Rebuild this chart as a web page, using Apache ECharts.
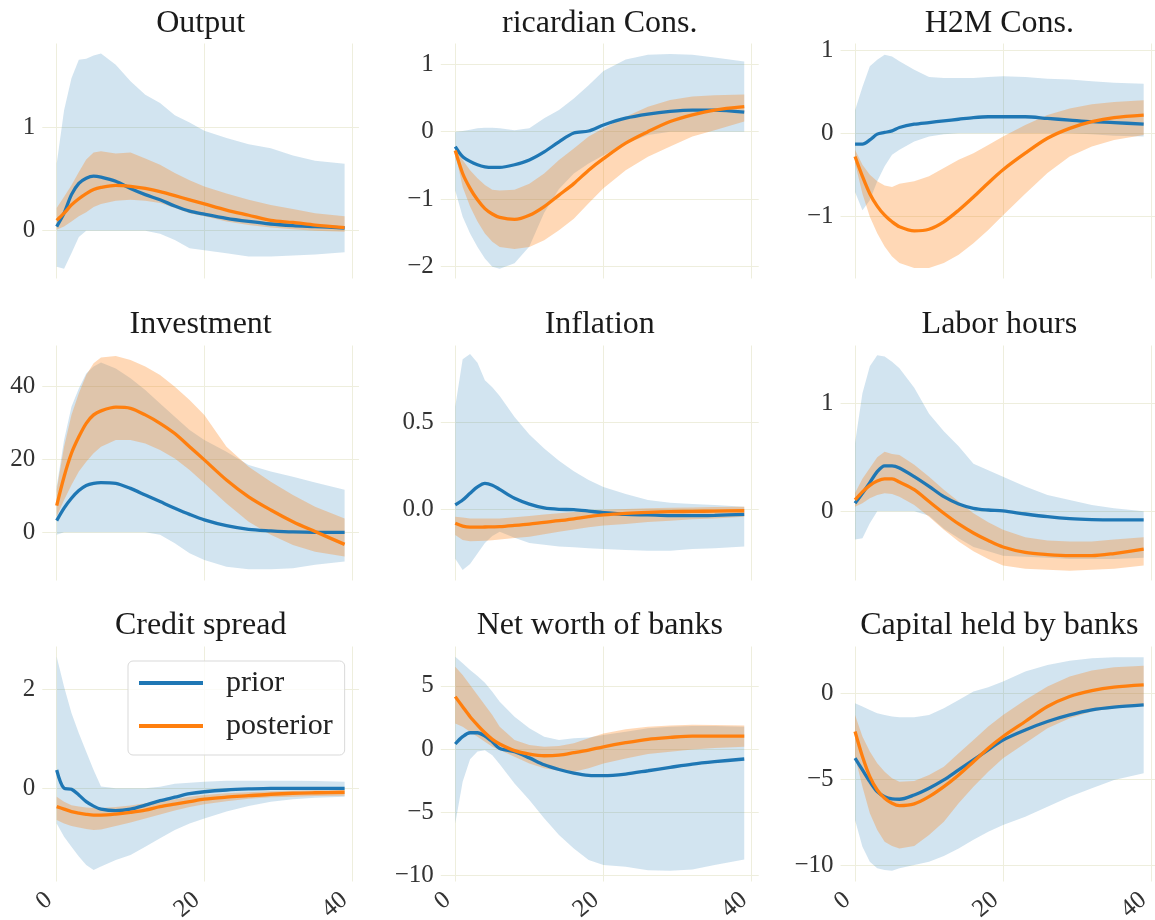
<!DOCTYPE html>
<html lang="en">
<head>
    <meta charset="UTF-8">
    <title>IRF prior vs posterior</title>
    <style>
        body { margin: 0; background: #fff; }
        #main { width: 1155px; height: 920px; }
    </style>
</head>
<script src="https://cdn.jsdelivr.net/npm/echarts@6.0.0/dist/echarts.min.js"></script>
<body>
<div id="main"></div>
</body>
<script>
    // horizon (quarters) at which the responses are read
    var periods = [0, 1, 2, 3, 4, 5, 6, 8, 10, 12, 14, 16, 18, 20, 23, 26, 29, 32, 35, 39];

    // Output
    var outputPrior   = [0.04, 0.17, 0.35, 0.46, 0.51, 0.53, 0.52, 0.48, 0.41, 0.35, 0.30, 0.24, 0.19, 0.16, 0.12, 0.09, 0.065, 0.05, 0.04, 0.026];
    var outputPriorLo = [-0.35, -0.37, -0.22, -0.06, 0, 0, 0, 0, 0, 0, -0.03, -0.09, -0.17, -0.19, -0.22, -0.25, -0.25, -0.24, -0.23, -0.21];
    var outputPriorHi = [0.65, 1.17, 1.48, 1.66, 1.67, 1.70, 1.72, 1.61, 1.45, 1.32, 1.24, 1.12, 1.05, 0.97, 0.90, 0.84, 0.80, 0.73, 0.68, 0.65];
    var outputPost    = [0.10, 0.17, 0.25, 0.31, 0.36, 0.40, 0.42, 0.44, 0.43, 0.41, 0.38, 0.34, 0.30, 0.26, 0.20, 0.15, 0.10, 0.08, 0.055, 0.03];
    var outputPostLo  = [0.01, 0.04, 0.09, 0.14, 0.18, 0.23, 0.26, 0.29, 0.30, 0.29, 0.27, 0.22, 0.17, 0.14, 0.09, 0.055, 0.03, 0.013, 0, -0.01];
    var outputPostHi  = [0.22, 0.33, 0.44, 0.57, 0.69, 0.76, 0.77, 0.75, 0.76, 0.70, 0.64, 0.56, 0.49, 0.43, 0.36, 0.30, 0.25, 0.21, 0.17, 0.14];

    // ricardian Cons.
    var ricPrior   = [-0.22, -0.37, -0.44, -0.49, -0.52, -0.53, -0.53, -0.49, -0.42, -0.30, -0.15, -0.02, 0.01, 0.10, 0.20, 0.26, 0.30, 0.32, 0.32, 0.29];
    var ricPriorLo = [-0.87, -1.26, -1.51, -1.71, -1.88, -2.00, -2.03, -1.95, -1.70, -1.20, -0.85, -0.62, -0.47, -0.35, -0.18, -0.05, 0, 0, 0, 0];
    var ricPriorHi = [0, 0.01, 0.03, 0.05, 0.06, 0.06, 0.05, 0.02, 0.05, 0.20, 0.32, 0.49, 0.69, 0.90, 1.07, 1.14, 1.15, 1.14, 1.10, 1.04];
    var ricPost    = [-0.28, -0.62, -0.84, -1.01, -1.14, -1.22, -1.27, -1.30, -1.24, -1.11, -0.94, -0.77, -0.57, -0.40, -0.17, 0, 0.15, 0.25, 0.32, 0.37];
    var ricPostLo  = [-0.32, -0.82, -1.11, -1.33, -1.51, -1.63, -1.71, -1.74, -1.71, -1.61, -1.46, -1.29, -1.06, -0.84, -0.57, -0.37, -0.22, -0.07, 0.02, 0.15];
    var ricPostHi  = [-0.25, -0.42, -0.57, -0.69, -0.79, -0.86, -0.87, -0.86, -0.77, -0.62, -0.42, -0.25, -0.07, 0.05, 0.22, 0.37, 0.47, 0.52, 0.54, 0.55];

    // H2M Cons.
    var h2mPrior   = [-0.13, -0.13, -0.08, -0.01, 0.01, 0.03, 0.07, 0.11, 0.13, 0.15, 0.17, 0.19, 0.20, 0.20, 0.20, 0.18, 0.16, 0.14, 0.13, 0.11];
    var h2mPriorLo = [-0.71, -0.93, -0.81, -0.58, -0.40, -0.26, -0.20, -0.10, -0.04, -0.01, 0, 0, 0, 0, 0, 0, 0, -0.01, -0.03, -0.04];
    var h2mPriorHi = [0.28, 0.56, 0.81, 0.89, 0.95, 0.93, 0.87, 0.77, 0.68, 0.67, 0.67, 0.67, 0.68, 0.69, 0.68, 0.66, 0.65, 0.63, 0.61, 0.60];
    var h2mPost    = [-0.28, -0.52, -0.73, -0.88, -0.99, -1.07, -1.13, -1.18, -1.16, -1.07, -0.93, -0.77, -0.60, -0.44, -0.24, -0.06, 0.06, 0.14, 0.19, 0.22];
    var h2mPostLo  = [-0.36, -0.73, -1.01, -1.21, -1.37, -1.49, -1.57, -1.63, -1.63, -1.57, -1.47, -1.33, -1.17, -0.99, -0.73, -0.48, -0.28, -0.16, -0.08, -0.02];
    var h2mPostHi  = [-0.20, -0.38, -0.50, -0.58, -0.63, -0.65, -0.61, -0.58, -0.52, -0.42, -0.32, -0.24, -0.14, -0.04, 0.10, 0.22, 0.30, 0.35, 0.38, 0.40];

    // Investment
    var invPrior   = [3.2, 6.6, 9.3, 11.4, 12.8, 13.4, 13.6, 13.4, 12.0, 10.2, 8.4, 6.6, 4.9, 3.4, 1.8, 0.8, 0.4, 0.1, 0, 0];
    var invPriorLo = [-0.7, 0, 0, 0, 0, 0, 0, 0, 0, 0, -0.7, -3.0, -5.7, -7.6, -9.4, -10.1, -10.1, -9.8, -8.9, -8.0];
    var invPriorHi = [12.5, 25.2, 34.3, 39.3, 43.4, 45.3, 46.4, 44.8, 42.1, 38.9, 35.2, 31.6, 28.0, 25.2, 22.0, 18.4, 16.6, 15.2, 13.6, 11.6];
    var invPost    = [7.3, 15.2, 21.6, 26.1, 29.8, 32.1, 33.2, 34.2, 33.9, 32.1, 29.8, 27.0, 23.4, 19.8, 14.3, 9.7, 6.1, 2.9, 0.2, -3.3];
    var invPostLo  = [4.3, 8.8, 12.9, 16.6, 19.3, 21.6, 23.4, 25.2, 25.2, 24.3, 22.5, 20.2, 17.0, 13.4, 7.9, 2.9, -0.7, -3.5, -5.3, -6.6];
    var invPostHi  = [11.6, 23.4, 32.1, 38.0, 43.0, 46.2, 47.8, 48.2, 47.1, 45.3, 43.0, 39.8, 36.2, 32.1, 23.4, 17.9, 13.8, 10.2, 7.0, 3.8];

    // Inflation
    var inflPrior   = [0.027, 0.055, 0.094, 0.13, 0.15, 0.14, 0.116, 0.065, 0.032, 0.01, 0.002, 0, -0.008, -0.017, -0.027, -0.03, -0.034, -0.034, -0.032, -0.027];
    var inflPriorLo = [-0.28, -0.345, -0.31, -0.25, -0.19, -0.15, -0.126, -0.16, -0.19, -0.20, -0.21, -0.215, -0.22, -0.225, -0.23, -0.235, -0.235, -0.225, -0.22, -0.21];
    var inflPriorHi = [0.59, 0.86, 0.89, 0.84, 0.74, 0.70, 0.65, 0.53, 0.43, 0.35, 0.28, 0.22, 0.17, 0.13, 0.09, 0.055, 0.04, 0.032, 0.027, 0.017];
    var inflPost    = [-0.078, -0.094, -0.10, -0.10, -0.099, -0.098, -0.097, -0.09, -0.082, -0.072, -0.063, -0.052, -0.04, -0.03, -0.021, -0.015, -0.011, -0.01, -0.008, -0.006];
    var inflPostLo  = [-0.145, -0.174, -0.18, -0.179, -0.178, -0.175, -0.17, -0.162, -0.155, -0.14, -0.126, -0.113, -0.10, -0.09, -0.082, -0.07, -0.063, -0.055, -0.05, -0.04];
    var inflPostHi  = [-0.04, -0.045, -0.05, -0.05, -0.05, -0.05, -0.05, -0.043, -0.036, -0.028, -0.021, -0.013, -0.006, 0, 0.004, 0.008, 0.011, 0.013, 0.015, 0.017];

    // Labor hours
    var labPrior   = [0.074, 0.166, 0.265, 0.366, 0.42, 0.42, 0.40, 0.32, 0.23, 0.135, 0.068, 0.028, 0.012, 0.003, -0.025, -0.05, -0.068, -0.077, -0.08, -0.08];
    var labPriorLo = [-0.26, -0.25, -0.11, 0, 0, 0, 0, 0, -0.04, -0.16, -0.25, -0.33, -0.37, -0.41, -0.42, -0.43, -0.44, -0.44, -0.44, -0.43];
    var labPriorHi = [0.63, 1.09, 1.34, 1.44, 1.43, 1.38, 1.32, 1.14, 0.90, 0.74, 0.60, 0.44, 0.38, 0.32, 0.23, 0.15, 0.105, 0.058, 0.028, 0];
    var labPost    = [0.105, 0.18, 0.24, 0.28, 0.30, 0.30, 0.27, 0.20, 0.09, -0.018, -0.117, -0.20, -0.27, -0.33, -0.38, -0.40, -0.41, -0.41, -0.39, -0.35];
    var labPostLo  = [0.043, 0.074, 0.12, 0.15, 0.166, 0.16, 0.135, 0.058, -0.05, -0.17, -0.28, -0.37, -0.44, -0.50, -0.53, -0.54, -0.55, -0.54, -0.53, -0.50];
    var labPostHi  = [0.17, 0.30, 0.40, 0.50, 0.55, 0.53, 0.52, 0.43, 0.32, 0.20, 0.09, -0.018, -0.10, -0.17, -0.24, -0.27, -0.28, -0.28, -0.26, -0.24];

    // Credit spread
    var csPrior   = [0.37, 0, -0.02, -0.135, -0.27, -0.36, -0.42, -0.45, -0.42, -0.34, -0.25, -0.18, -0.11, -0.07, -0.034, -0.013, 0, 0, 0, 0];
    var csPriorLo = [-0.71, -0.98, -1.18, -1.38, -1.55, -1.65, -1.58, -1.45, -1.35, -1.18, -1.01, -0.84, -0.71, -0.61, -0.47, -0.36, -0.27, -0.22, -0.19, -0.17];
    var csPriorHi = [2.66, 2.05, 1.52, 1.11, 0.74, 0.37, 0.034, 0, 0, 0, 0.03, 0.09, 0.11, 0.13, 0.155, 0.155, 0.155, 0.155, 0.15, 0.13];
    var csPost    = [-0.37, -0.42, -0.47, -0.50, -0.525, -0.54, -0.54, -0.52, -0.485, -0.44, -0.37, -0.32, -0.27, -0.22, -0.18, -0.15, -0.12, -0.10, -0.09, -0.08];
    var csPostLo  = [-0.64, -0.71, -0.76, -0.79, -0.82, -0.84, -0.83, -0.76, -0.69, -0.61, -0.53, -0.45, -0.38, -0.32, -0.26, -0.21, -0.18, -0.17, -0.155, -0.15];
    var csPostHi  = [-0.17, -0.27, -0.34, -0.37, -0.39, -0.40, -0.40, -0.38, -0.35, -0.30, -0.26, -0.22, -0.17, -0.135, -0.10, -0.08, -0.06, -0.047, -0.04, -0.034];

    // Net worth of banks
    var nwPrior   = [0.40, 0.98, 1.29, 1.29, 1.03, 0.58, 0.05, -0.20, -0.70, -1.25, -1.62, -1.90, -2.08, -2.11, -1.98, -1.72, -1.45, -1.19, -1.00, -0.79];
    var nwPriorLo = [-5.89, -2.60, -0.80, -0.20, -0.10, -0.50, -1.20, -2.72, -4.04, -5.49, -6.81, -7.87, -8.79, -9.19, -9.32, -9.59, -9.64, -9.53, -9.19, -8.74];
    var nwPriorHi = [7.31, 6.79, 6.26, 5.78, 5.25, 4.54, 3.75, 2.56, 1.64, 0.98, 0.71, 0.85, 0.92, 1.11, 1.37, 1.64, 1.77, 1.82, 1.82, 1.77];
    var nwPost    = [4.15, 3.35, 2.56, 1.90, 1.29, 0.77, 0.40, -0.13, -0.40, -0.53, -0.48, -0.29, -0.08, 0.18, 0.50, 0.77, 0.92, 1.03, 1.03, 1.03];
    var nwPostLo  = [2.03, 1.77, 1.37, 0.98, 0.58, 0.18, -0.08, -0.61, -1.14, -1.53, -1.72, -1.80, -1.53, -1.14, -0.74, -0.40, -0.21, -0.03, 0.08, 0.18];
    var nwPostHi  = [6.52, 5.86, 5.07, 4.28, 3.49, 2.69, 1.77, 0.71, 0.32, 0.18, 0.24, 0.45, 0.85, 1.24, 1.56, 1.77, 1.87, 1.93, 1.90, 1.87];

    // Capital held by banks
    var capPrior   = [-3.77, -4.45, -5.13, -5.71, -6.00, -6.13, -6.15, -5.90, -5.51, -5.03, -4.45, -3.87, -3.29, -2.71, -2.13, -1.64, -1.26, -0.97, -0.81, -0.68];
    var capPriorLo = [-7.35, -8.90, -9.77, -10.15, -10.25, -10.29, -10.15, -9.96, -9.77, -9.44, -9.00, -8.50, -8.03, -7.64, -7.16, -6.58, -6.00, -5.51, -5.03, -4.64];
    var capPriorHi = [-0.58, -0.77, -0.97, -1.16, -1.26, -1.35, -1.39, -1.39, -1.26, -0.87, -0.39, 0.10, 0.35, 0.68, 1.26, 1.64, 1.88, 2.03, 2.09, 2.09];
    var capPost    = [-2.22, -3.67, -4.84, -5.61, -6.09, -6.38, -6.52, -6.42, -6.00, -5.42, -4.74, -3.97, -3.19, -2.51, -1.64, -0.77, -0.19, 0.15, 0.35, 0.48];
    var capPostLo  = [-3.67, -5.42, -6.96, -7.93, -8.61, -8.86, -9.00, -8.86, -8.22, -7.45, -6.38, -5.42, -4.55, -3.77, -2.90, -2.03, -1.45, -1.06, -0.87, -0.68];
    var capPostHi  = [-1.26, -2.51, -3.38, -4.06, -4.55, -4.93, -5.13, -5.09, -4.74, -4.26, -3.48, -2.71, -1.93, -1.26, -0.39, 0.39, 0.97, 1.32, 1.51, 1.59];

    var titles = ['Output', 'ricardian Cons.', 'H2M Cons.', 'Investment', 'Inflation', 'Labor hours',
        'Credit spread', 'Net worth of banks', 'Capital held by banks'];
    var xTicks = [0, 20, 40];

    var panels = [
        {prior: [outputPrior, outputPriorLo, outputPriorHi], post: [outputPost, outputPostLo, outputPostHi], min: -0.464, max: 1.817, step: 1, dec: 0},
        {prior: [ricPrior, ricPriorLo, ricPriorHi], post: [ricPost, ricPostLo, ricPostHi], min: -2.176, max: 1.307, step: 1, dec: 0},
        {prior: [h2mPrior, h2mPriorLo, h2mPriorHi], post: [h2mPost, h2mPostLo, h2mPostHi], min: -1.756, max: 1.086, step: 1, dec: 0},
        {prior: [invPrior, invPriorLo, invPriorHi], post: [invPost, invPostLo, invPostHi], min: -13.18, max: 51.07, step: 20, dec: 0},
        {prior: [inflPrior, inflPriorLo, inflPriorHi], post: [inflPost, inflPostLo, inflPostHi], min: -0.405, max: 0.939, step: 0.5, dec: 1},
        {prior: [labPrior, labPriorLo, labPriorHi], post: [labPost, labPostLo, labPostHi], min: -0.639, max: 1.531, step: 1, dec: 0},
        {prior: [csPrior, csPriorLo, csPriorHi], post: [csPost, csPostLo, csPostHi], min: -1.883, max: 2.865, step: 2, dec: 0},
        {prior: [nwPrior, nwPriorLo, nwPriorHi], post: [nwPost, nwPostLo, nwPostHi], min: -10.49, max: 8.12, step: 5, dec: 0},
        {prior: [capPrior, capPriorLo, capPriorHi], post: [capPost, capPostLo, capPostHi], min: -10.92, max: 2.71, step: 5, dec: 0}
    ];

    // plot boxes in px (matplotlib-like 5% x margin around 0..39)
    var colLeft = [42.3, 440.8, 840.6];
    var colWidth = [316.7, 317.9, 317.5];
    var rowTop = [43.5, 345.5, 646.5];
    var rowHeight = 235;
    var titleTop = [8, 309, 610];

    var FONT = 'Liberation Serif';
    var BLUE = '#1f77b4', ORANGE = '#ff7f0e';
    var GRIDCOL = '#eeeedd';

    function tickFormatter(step, dec) {
        return function (v) {
            var k = v / step;
            if (Math.abs(k - Math.round(k)) > 1e-6) return '';
            return v.toFixed(dec).replace('-', '\u2212');
        };
    }

    function pairs(ys) {
        return periods.map(function (t, i) { return [t, ys[i]]; });
    }

    // shaded band = polygon along the upper edge and back along the lower edge
    function bandSeries(name, i, lo, hi, fill) {
        return {
            name: name, type: 'custom', xAxisIndex: i, yAxisIndex: i, silent: true, clip: true, z: 1,
            data: [[periods[0], lo[0]]],
            renderItem: function (params, api) {
                var pts = [];
                for (var j = 0; j < periods.length; j++) pts.push(api.coord([periods[j], hi[j]]));
                for (var k = periods.length - 1; k >= 0; k--) pts.push(api.coord([periods[k], lo[k]]));
                return {type: 'polygon', shape: {points: pts}, style: {fill: fill}};
            }
        };
    }

    var grids = [], xAxes = [], yAxes = [], titleList = [], series = [];

    panels.forEach(function (p, i) {
        var row = Math.floor(i / 3), col = i % 3;
        grids.push({left: colLeft[col], top: rowTop[row], width: colWidth[col], height: rowHeight,
            containLabel: false, outerBoundsMode: 'none'});
        titleList.push({
            text: titles[i], left: colLeft[col] + colWidth[col] / 2, top: titleTop[row], textAlign: 'center', padding: 0,
            textStyle: {fontFamily: FONT, fontSize: 32, fontWeight: 'normal', color: '#1a1a1a'}
        });
        xAxes.push({
            gridIndex: i, type: 'value', min: -1.95, max: 40.95, minInterval: 20, maxInterval: 20,
            axisLine: {show: false}, axisTick: {show: false},
            splitLine: {show: true, showMinLine: false, showMaxLine: false, lineStyle: {color: GRIDCOL, width: 1}},
            axisLabel: {
                show: row === 2, rotate: 40, margin: 9, padding: [0, 10, 0, 0],
                fontFamily: FONT, fontSize: 25, color: '#333',
                formatter: function (v) { return xTicks.indexOf(Math.round(v * 1000) / 1000) >= 0 ? String(v) : ''; }
            }
        });
        yAxes.push({
            gridIndex: i, type: 'value', min: p.min, max: p.max, minInterval: p.step, maxInterval: p.step,
            axisLine: {show: false}, axisTick: {show: false},
            splitLine: {show: true, showMinLine: false, showMaxLine: false, lineStyle: {color: GRIDCOL, width: 1}},
            axisLabel: {margin: 7, fontFamily: FONT, fontSize: 25, color: '#333', formatter: tickFormatter(p.step, p.dec)}
        });

        series.push(bandSeries('prior band', i, p.prior[1], p.prior[2], 'rgba(31,119,180,0.2)'));
        series.push(bandSeries('posterior band', i, p.post[1], p.post[2], 'rgba(255,127,14,0.3)'));
        // median lines
        series.push({name: 'prior', type: 'line', xAxisIndex: i, yAxisIndex: i, data: pairs(p.prior[0]),
            symbol: 'none', smooth: 0.3, color: BLUE, lineStyle: {color: BLUE, width: 3.3}, z: 3});
        series.push({name: 'posterior', type: 'line', xAxisIndex: i, yAxisIndex: i, data: pairs(p.post[0]),
            symbol: 'none', smooth: 0.3, color: ORANGE, lineStyle: {color: ORANGE, width: 3.3}, z: 3});
    });

    var chart = echarts.init(document.getElementById('main'), null, {renderer: 'canvas'});
    chart.setOption({
        backgroundColor: '#fff',
        animation: false,
        title: titleList,
        grid: grids,
        xAxis: xAxes,
        yAxis: yAxes,
        legend: {
            data: ['prior', 'posterior'], orient: 'vertical', left: 128, top: 661,
            icon: 'rect', itemWidth: 64, itemHeight: 4, itemGap: 13, selectedMode: false,
            padding: [7, 12, 14, 11], backgroundColor: 'rgba(255,255,255,0.8)',
            borderColor: '#d9d9d9', borderWidth: 1, borderRadius: 5,
            textStyle: {fontFamily: FONT, fontSize: 30, color: '#222', padding: [0, 0, 0, 18]}
        },
        series: series
    });
</script>
</html>
